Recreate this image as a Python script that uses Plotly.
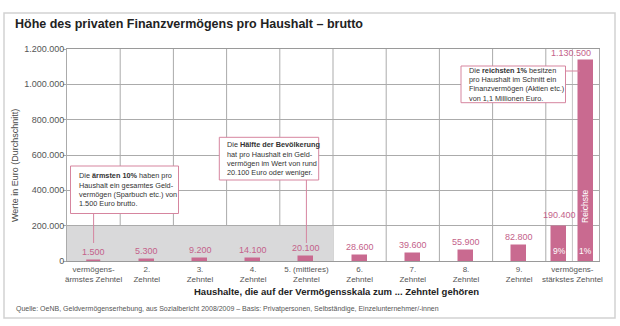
import plotly.graph_objects as go

# --- data -------------------------------------------------------------
decile_labels = [
    "vermögens-<br>ärmstes Zehntel", "2.<br>Zehntel", "3.<br>Zehntel",
    "4.<br>Zehntel", "5. (mittleres)<br>Zehntel", "6.<br>Zehntel",
    "7.<br>Zehntel", "8.<br>Zehntel", "9.<br>Zehntel",
    "vermögens-<br>stärkstes Zehntel",
]
decile_values = [1500, 5300, 9200, 14100, 20100, 28600, 39600, 55900, 82800]
top_labels = ["9%", "1%"]
top_values = [190400, 1130500]
y_ticks = [0, 200000, 400000, 600000, 800000, 1000000, 1200000]

# --- styling ----------------------------------------------------------
W, H = 620, 326
L, R, T, B = 67, 21, 49, 65
PW, PH = W - L - R, H - T - B
NARROW = "Liberation Sans Narrow, Arial Narrow, Liberation Sans, sans-serif"
SANS = "Liberation Sans, Arial, sans-serif"
BAR = "#c96a90"
PINK_TXT = "#c4628a"
BOX_LINE = "#d6859f"
GRID = "#ababab"
TXT = "#4a4a4a"
BAR_W = 0.26
TOP_OFF = 0.25
LINE_STEP = 9.2  # line spacing inside the note boxes, px


def px_x(px):
    return (px - L) / PW


def px_y(py):
    return (H - B - py) / PH


fig = go.Figure()

dec_x = list(range(len(decile_values)))
fig.add_bar(
    x=dec_x, y=decile_values, width=BAR_W,
    marker=dict(color=BAR, line=dict(color=BAR, width=1.5)),
    hoverinfo="skip",
)
top_x = [9 - TOP_OFF, 9 + TOP_OFF]
fig.add_bar(
    x=top_x, y=top_values, width=BAR_W,
    marker=dict(color=BAR, line=dict(color=BAR, width=1.5)),
    hoverinfo="skip",
)

shapes = []
# grey band for the lower half of the population
shapes.append(dict(type="rect", xref="x", yref="y", x0=-0.5, x1=4.5,
                   y0=0, y1=200000, fillcolor="#d9d9da", line_width=0,
                   layer="below"))
# column separators
for k in range(9):
    shapes.append(dict(type="line", xref="x", yref="paper", x0=k + 0.5,
                       x1=k + 0.5, y0=0, y1=1, line=dict(color=GRID, width=1),
                       layer="below"))
shapes.append(dict(type="line", xref="x", yref="paper", x0=9, x1=9, y0=0,
                   y1=1, line=dict(color="#c4c4c4", width=1), layer="below"))
# outer frame
shapes.append(dict(type="rect", xref="paper", yref="paper",
                   x0=px_x(4), x1=px_x(615), y0=px_y(318), y1=px_y(13),
                   line=dict(color="#d2d2d2", width=1.5), layer="below"))

annotations = []


def fmt(v):
    return f"{v:,}".replace(",", ".")


# value labels above the bars
for xv, v in zip(dec_x, decile_values):
    annotations.append(dict(x=xv, y=v, xref="x", yref="y", text=fmt(v),
                            showarrow=False, yanchor="bottom", yshift=2,
                            font=dict(color=PINK_TXT, size=9, family=SANS)))
annotations.append(dict(x=top_x[0], y=top_values[0], xref="x", yref="y",
                        text=fmt(top_values[0]), showarrow=False,
                        yanchor="bottom", yshift=5,
                        font=dict(color=PINK_TXT, size=9, family=SANS)))
annotations.append(dict(x=top_x[1] + BAR_W / 2, y=top_values[1], xref="x",
                        yref="y", text=fmt(top_values[1]), showarrow=False,
                        xanchor="right", yanchor="bottom", yshift=1,
                        font=dict(color=PINK_TXT, size=9, family=SANS)))
# share labels inside the two top bars
for xv, lab in zip(top_x, top_labels):
    annotations.append(dict(x=xv, y=0, xref="x", yref="y", text=lab,
                            showarrow=False, yanchor="middle", yshift=10,
                            font=dict(color="white", size=8.5, family=SANS)))
annotations.append(dict(x=top_x[1], y=310000, xref="x", yref="y",
                        text="Reichste", textangle=-90, showarrow=False,
                        font=dict(color="white", size=8.5, family=SANS)))

# explanatory boxes: (left, top, right, bottom, text-left) in px, lines
boxes = [
    ((70.5, 166, 178.5, 213.5, 76.5),
     ["Die <b>ärmsten 10%</b> haben pro", "Haushalt ein gesamtes Geld-",
      "vermögen (Sparbuch etc.) von", "1.500 Euro brutto."]),
    ((219.3, 137.3, 318.7, 180, 225),
     ["Die <b>Hälfte der Bevölkerung</b>", "hat pro Haushalt ein Geld-",
      "vermögen im Wert von rund", "20.100 Euro oder weniger."]),
    ((461, 66, 565.5, 102.7, 466.7),
     ["Die <b>reichsten 1%</b> besitzen", "pro Haushalt im Schnitt ein",
      "Finanzvermögen (Aktien etc.)", "von 1,1 Millionen Euro."]),
]
for (x0, y0, x1, y1, tx), lines in boxes:
    shapes.append(dict(type="rect", xref="paper", yref="paper",
                       x0=px_x(x0), x1=px_x(x1), y0=px_y(y1), y1=px_y(y0),
                       fillcolor="white", line=dict(color=BOX_LINE, width=1)))
    mid = (y0 + y1) / 2
    n = len(lines)
    for k, line in enumerate(lines):
        ly = mid + (k - (n - 1) / 2) * LINE_STEP
        annotations.append(dict(
            x=px_x(tx), y=px_y(ly), xref="paper", yref="paper",
            xanchor="left", yanchor="middle", text=line, showarrow=False,
            font=dict(color="#333333", size=7.3, family=SANS)))

# connector lines from the boxes to the bars
shapes.append(dict(type="line", xref="x", yref="paper", x0=0, x1=0,
                   y0=px_y(213.5), y1=px_y(243),
                   line=dict(color=BOX_LINE, width=1)))
shapes.append(dict(type="line", xref="x", yref="paper", x0=4, x1=4,
                   y0=px_y(180), y1=px_y(243),
                   line=dict(color=BOX_LINE, width=1)))
shapes.append(dict(type="line", xref="paper", yref="paper", x0=px_x(565.5),
                   x1=px_x(580), y0=px_y(71), y1=px_y(71),
                   line=dict(color=BOX_LINE, width=1)))

# axis titles and notes
annotations.append(dict(x=px_x(15), y=px_y(166), xref="paper", yref="paper",
                        xanchor="center", yanchor="middle",
                        text="Werte in Euro (Durchschnitt)", textangle=-90,
                        showarrow=False,
                        font=dict(color=TXT, size=9, family=NARROW)))
annotations.append(dict(x=px_x(336), y=px_y(291), xref="paper", yref="paper",
                        xanchor="center", yanchor="middle",
                        text="<b>Haushalte, die auf der Vermögensskala zum ... "
                             "Zehntel gehören</b>", showarrow=False,
                        font=dict(color="#222222", size=9.5, family=NARROW)))
annotations.append(dict(x=px_x(14), y=px_y(309), xref="paper", yref="paper",
                        xanchor="left", yanchor="middle",
                        text="Quelle: OeNB, Geldvermögenserhebung, aus "
                             "Sozialbericht 2008/2009 – Basis: Privatpersonen, "
                             "Selbständige, Einzelunternehmer/-innen",
                        showarrow=False,
                        font=dict(color="#555555", size=7, family=NARROW)))

fig.update_layout(
    width=W, height=H, margin=dict(l=L, r=R, t=T, b=B, pad=0),
    paper_bgcolor="white", plot_bgcolor="white", showlegend=False,
    separators=",.", barmode="overlay", bargap=0,
    title=dict(text="<b>Höhe des privaten Finanzvermögens pro Haushalt – brutto</b>",
               x=15 / W, xanchor="left", y=1 - 24 / H, yanchor="middle",
               font=dict(color="#222222", size=12.5, family=NARROW)),
    shapes=shapes, annotations=annotations,
    xaxis=dict(range=[-0.5, 9.5], tickmode="array", tickvals=list(range(10)),
               ticktext=decile_labels, showgrid=False, zeroline=False,
               showline=True, linecolor="#9a9a9a", linewidth=1, mirror=True,
               ticks="", tickfont=dict(color="#555555", size=8, family=NARROW)),
    yaxis=dict(range=[0, 1200000], tickmode="array", tickvals=y_ticks,
               tickformat=",d", showgrid=True, gridcolor=GRID, gridwidth=1,
               zeroline=False, showline=True, linecolor=GRID, mirror=True,
               ticks="outside", ticklen=3, tickcolor=GRID,
               ticklabelstandoff=-3,
               tickfont=dict(color="#555555", size=9, family=SANS)),
)

fig.write_html("out.html")
